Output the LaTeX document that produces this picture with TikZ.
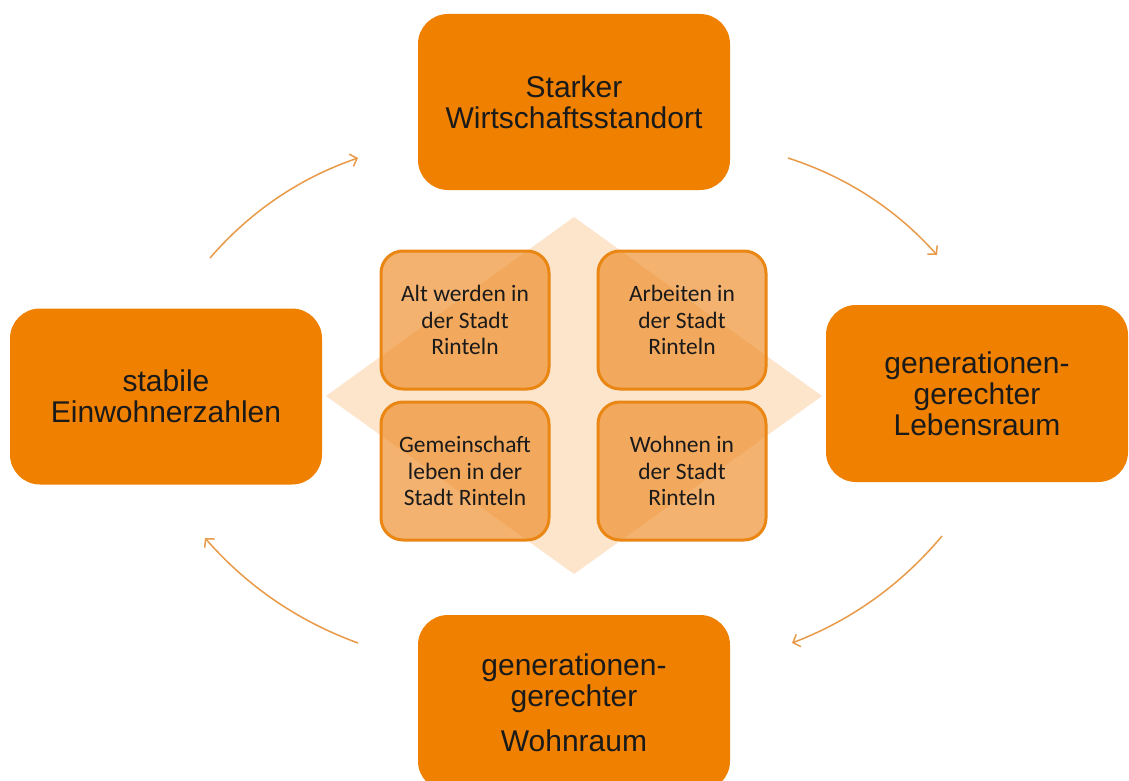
\documentclass[tikz,border=0pt]{standalone}
\usepackage{fontspec}
\setmainfont{Liberation Sans}
\newfontfamily\smallfont{Carlito}
\usetikzlibrary{arrows.meta}
\definecolor{mainorange}{HTML}{EF8000}
\definecolor{lightpeach}{HTML}{FDE5CC}
\definecolor{tileorange}{HTML}{EE8A22}
\definecolor{tileedge}{HTML}{EA8614}
\definecolor{arrowcol}{HTML}{E99A48}
\definecolor{inkcol}{HTML}{1A1A1A}
\tikzset{
  bigbox/.style={rectangle, rounded corners=30pt, fill=mainorange, draw=none,
    minimum width=312pt, minimum height=176pt, align=center, text=inkcol,
    font=\fontsize{30pt}{31pt}\selectfont},
  tilebox/.style={rectangle, rounded corners=22pt, fill=tileorange, fill opacity=0.65,
    text opacity=1, draw=tileedge, line width=3pt, minimum width=168pt,
    minimum height=138pt, align=center, text=inkcol,
    font=\smallfont\fontsize{23.5pt}{26.5pt}\selectfont},
  cyclearrow/.style={draw=arrowcol, line width=1.5pt,
    -{Straight Barb[length=6pt,width=13pt,line width=1.5pt]}}
}
\begin{document}
\begin{tikzpicture}[x=1pt,y=-1pt]
  \useasboundingbox (0,0) rectangle (1129,781);
  \clip (0,0) rectangle (1129,781);
  \fill[white] (0,0) rectangle (1129,781);

  % pale diamond behind the four tiles
  \fill[lightpeach] (574,217) -- (822,396) -- (574,574) -- (326,396) -- cycle;

  % outer boxes
  \node[bigbox] (top) at (574,102) {Starker\\Wirtschaftsstandort};
  \node[bigbox] (left) at (166,396.5) {stabile\\Einwohnerzahlen};
  \node[bigbox, minimum width=302pt, minimum height=177pt] (right) at (977,393.5)
    {generationen-\\gerechter\\Lebensraum};
  \node[bigbox] (bottom) at (574,703)
    {generationen-\\gerechter\\[14pt]Wohnraum};

  % inner tiles
  \node[tilebox] (tl) at (465,320) {Alt werden in\\der Stadt\\Rinteln};
  \node[tilebox] (tr) at (682,320) {Arbeiten in\\der Stadt\\Rinteln};
  \node[tilebox] (bl) at (465,471) {Gemeinschaft\\leben in der\\Stadt Rinteln};
  \node[tilebox] (br) at (682,471) {Wohnen in\\der Stadt\\Rinteln};

  % cycle arrows between the outer boxes (gentle arcs)
  \coordinate (a1s) at (210,258);
  \coordinate (a1e) at (358,158);
  \coordinate (a2s) at (788,158);
  \coordinate (a2e) at (937,255);
  \coordinate (a3s) at (942,536);
  \coordinate (a3e) at (792,643);
  \coordinate (a4s) at (358,643);
  \coordinate (a4e) at (205,538);
  \draw[cyclearrow] (a1s) .. controls (250.4,211.3) and (299.7,178) .. (a1e);
  \draw[cyclearrow] (a2s) .. controls (846.5,176.9) and (896.1,209.2) .. (a2e);
  \draw[cyclearrow] (a3s) .. controls (901.3,584.6) and (851.3,620.3) .. (a3e);
  \draw[cyclearrow] (a4s) .. controls (297.9,621.1) and (246.9,586.1) .. (a4e);
\end{tikzpicture}
\end{document}
